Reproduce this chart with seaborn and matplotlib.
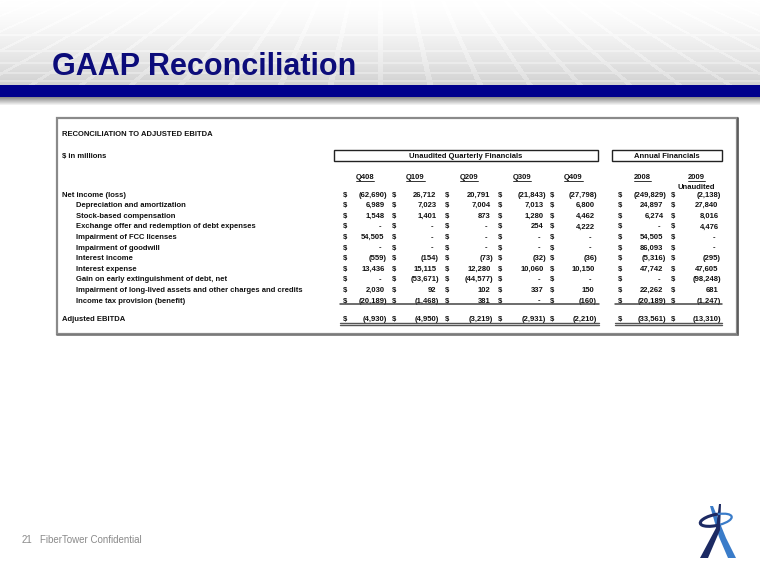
import numpy as np
import matplotlib
matplotlib.use("Agg")
import matplotlib.pyplot as plt
from matplotlib.patches import Rectangle, Polygon, Arc
import seaborn as sns

# ---------------- data ----------------
title = "GAAP Reconciliation"
table_title = "RECONCILIATION TO ADJUSTED EBITDA"
units = "$ in millions"
group_labels = ["Unaudited Quarterly Financials", "Annual Financials"]
columns = ["Q408", "Q109", "Q209", "Q309", "Q409", "2008", "2009"]
labels = [
    "Net income (loss)",
    "Depreciation and amortization",
    "Stock-based compensation",
    "Exchange offer and redemption of debt expenses",
    "Impairment of FCC licenses",
    "Impairment of goodwill",
    "Interest income",
    "Interest expense",
    "Gain on early extinguishment of debt, net",
    "Impairment of long-lived assets and other charges and credits",
    "Income tax provision (benefit)",
]
q408 = [-62690, 6989, 1548, 0, 54505, 0, -559, 13436, 0, 2030, -20189]
q109 = [26712, 7023, 1401, 0, 0, 0, -154, 15115, -53671, 92, -1468]
q209 = [20791, 7004, 873, 0, 0, 0, -73, 12280, -44577, 102, 381]
q309 = [-21843, 7013, 1280, 254, 0, 0, -32, 10060, 0, 337, 0]
q409 = [-27798, 6800, 4462, 4222, 0, 0, -36, 10150, 0, 150, -160]
y2008 = [-249829, 24897, 6274, 0, 54505, 86093, -5316, 47742, 0, 22262, -20189]
y2009 = [-2138, 27840, 8016, 4476, 0, 0, -295, 47605, -98248, 681, -1247]
total_label = "Adjusted EBITDA"
totals = [-4930, -4950, -3219, -2931, -2210, -33561, -13310]
footer = "FiberTower Confidential"
page = "21"

series = [q408, q109, q209, q309, q409, y2008, y2009]

# ---------------- style ----------------
sns.set_theme(style="white")
plt.rcParams["font.family"] = ["Liberation Sans", "DejaVu Sans"]

W, H = 760, 587
fig = plt.figure(figsize=(W / 100, H / 100), dpi=100)
ax = fig.add_axes([0, 0, 1, 1])
ax.set_xlim(0, W)
ax.set_ylim(H, 0)
ax.axis("off")

# ---------------- header background ----------------
yy = np.arange(85)[:, None].astype(float)
xx = np.arange(W)[None, :].astype(float)
base = 1.0 - 0.18 * (yy / 85.0) ** 1.5
u = (xx - 380.0) / (yy + 140.0) * 4.5
vl = (np.abs((u % 1.0) - 0.5) > 0.44).astype(float)
hrows = [34, 50, 62, 72, 80]
hl = np.zeros_like(yy)
for hr in hrows:
    hl[(yy >= hr) & (yy < hr + 2)] = 1.0
grid = np.clip(vl + hl, 0, 1) * 0.05 * (yy / 85.0)
img = np.clip(base + grid, 0, 1)
ax.imshow(np.dstack([img, img, img]), extent=(0, W, 85, 0), aspect="auto", zorder=0)
sh = np.linspace(0.55, 1.0, 9)[:, None] * np.ones((9, W))
ax.imshow(np.dstack([sh, sh, sh]), extent=(0, W, 106, 97), aspect="auto", zorder=0)
ax.add_patch(Rectangle((0, 85), W, 12, facecolor="#00008c", edgecolor="none", zorder=1))

ax.text(52, 75, title, fontsize=22, fontweight="bold", color="#0c0c7a",
        ha="left", va="baseline", zorder=3)

# ---------------- table box ----------------
ax.add_patch(Rectangle((57, 118), 680, 216, facecolor="white", edgecolor="#8a8a8a", lw=1.6, zorder=1))
ax.plot([737.5, 737.5], [118, 335], color="#555555", lw=1.2, zorder=2)
ax.plot([57, 738], [334.5, 334.5], color="#777777", lw=1.2, zorder=2)

FS = 5.5
NFS = 5.5
tk = dict(fontweight="bold", color="#111111", zorder=4)

ax.text(62, 136, table_title, fontsize=FS, ha="left", va="baseline", **tk)
ax.text(62, 158, units, fontsize=FS, ha="left", va="baseline", **tk)

ax.add_patch(Rectangle((334, 150), 264, 11, facecolor="none", edgecolor="#222222", lw=1.0, zorder=3))
ax.add_patch(Rectangle((612, 150), 110, 11, facecolor="none", edgecolor="#222222", lw=1.0, zorder=3))
ax.text((334 + 598) / 2, 158, group_labels[0], fontsize=FS, ha="center", va="baseline", **tk)
ax.text((612 + 722) / 2, 158, group_labels[1], fontsize=FS, ha="center", va="baseline", **tk)

dollar_x = [343, 392, 445, 498, 550, 618, 671]
right_x = [387, 439, 493, 546, 597, 666, 721]

fig.canvas.draw()
rend = fig.canvas.get_renderer()
inv = ax.transData.inverted()

for i, col in enumerate(columns):
    cx = (dollar_x[i] + right_x[i]) / 2
    t = ax.text(cx, 179, col, fontsize=NFS, ha="center", va="baseline", **tk)
    bb = t.get_window_extent(renderer=rend)
    (x0, _), (x1, _) = inv.transform([(bb.x0, 0), (bb.x1, 0)])
    ax.plot([x0, x1], [180.5, 180.5], color="#111111", lw=0.6, zorder=4)
ax.text((dollar_x[6] + right_x[6]) / 2, 189, "Unaudited", fontsize=FS, ha="center", va="baseline", **tk)


def fmt(v):
    if v == 0:
        return "-", 5.5
    if v < 0:
        return "({:,})".format(-v), 0.0
    return "{:,}".format(v), 2.5


row_y = [194 + 10.6 * r for r in range(len(labels))]
for r, lab in enumerate(labels):
    y = row_y[r] + 2.6
    x = 62 if r == 0 else 76
    ax.text(x, y, lab, fontsize=FS, ha="left", va="baseline", **tk)
    for i, s in enumerate(series):
        ax.text(dollar_x[i], y, "$", fontsize=NFS, ha="left", va="baseline", **tk)
        txt, off = fmt(s[r])
        ax.text(right_x[i] - off, y, txt, fontsize=NFS, ha="right", va="baseline", **tk)

ax.plot([340, 599], [304, 304], color="#444444", lw=1.1, zorder=4)
ax.plot([615, 722], [304, 304], color="#444444", lw=1.1, zorder=4)

ty = 318 + 2.6
ax.text(62, ty, total_label, fontsize=FS, ha="left", va="baseline", **tk)
for i, v in enumerate(totals):
    ax.text(dollar_x[i], ty, "$", fontsize=NFS, ha="left", va="baseline", **tk)
    txt, off = fmt(v)
    ax.text(right_x[i] - off, ty, txt, fontsize=NFS, ha="right", va="baseline", **tk)
for yv in (323.3, 325.3):
    ax.plot([340, 599], [yv, yv], color="#555555", lw=1.0, zorder=4)
    ax.plot([615, 722], [yv, yv], color="#555555", lw=1.0, zorder=4)

# ---------------- footer ----------------
ax.text(22, 543, page, fontsize=7, color="#8a8a8a", ha="left", va="baseline")
ax.text(40, 543, footer, fontsize=7, color="#8a8a8a", ha="left", va="baseline")

# ---------------- logo ----------------
ax.add_patch(Polygon([(710, 506), (713, 506), (726, 538), (736, 558), (728, 558), (719, 537)],
                     closed=True, facecolor="#3a7cc9", edgecolor="none", zorder=3))
ax.add_patch(Polygon([(719, 504), (721, 504), (720, 530), (708, 558), (700, 558), (716, 528)],
                     closed=True, facecolor="#1c2a63", edgecolor="none", zorder=4))
ax.add_patch(Arc((716, 520), 32, 11, angle=-12, theta1=60, theta2=300,
                 edgecolor="#1c2a63", lw=2.2, zorder=3))
ax.add_patch(Arc((716, 520), 32, 11, angle=-12, theta1=-60, theta2=60,
                 edgecolor="#3a7cc9", lw=1.6, zorder=5))

fig.savefig("out.png", dpi=100)
